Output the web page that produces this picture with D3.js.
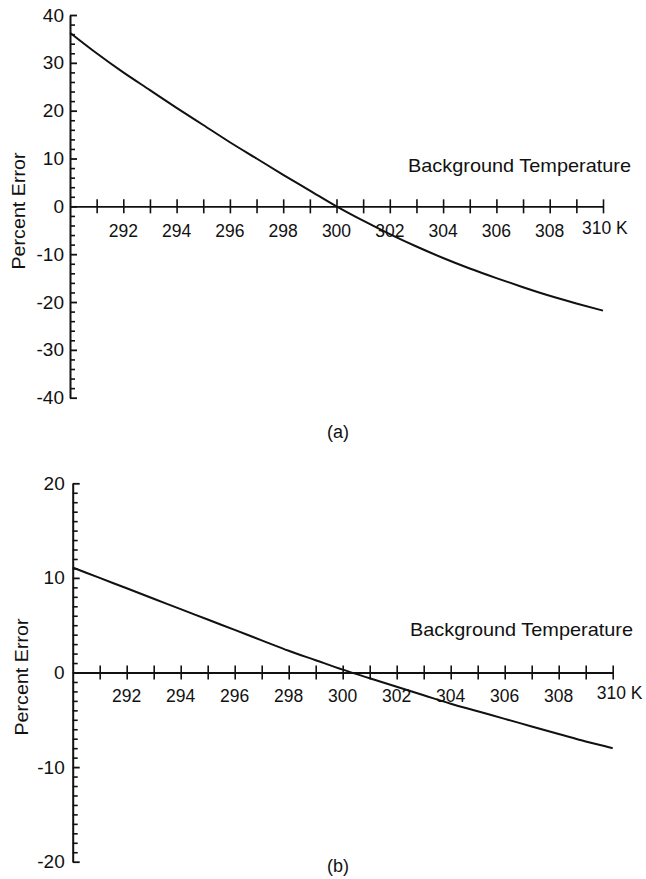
<!DOCTYPE html>
<html><head><meta charset="utf-8">
<script src="https://cdn.jsdelivr.net/npm/d3@7"></script>
<style>
body{margin:0;background:#fff}
text{font-family:"Liberation Sans",Arial,Helvetica,sans-serif;fill:#111}
</style>
</head><body>
<svg id="c" width="646" height="879"></svg>
<script>
// ---- data ----
const temperatures = [290,291,292,293,294,295,296,297,298,299,300,301,302,303,304,305,306,307,308,309,310];
const errorA = [36.3,32.0,28.0,24.3,20.6,17.0,13.4,10.0,6.6,3.3,0,-3.0,-5.8,-8.4,-10.8,-13.0,-15.0,-16.9,-18.7,-20.3,-21.8];
const errorB = [11.1,10.0,8.9,7.8,6.7,5.6,4.5,3.4,2.3,1.3,0.3,-0.6,-1.5,-2.4,-3.3,-4.1,-4.9,-5.7,-6.5,-7.3,-8.0];
const xTickValues = [291,292,293,294,295,296,297,298,299,300,301,302,303,304,305,306,307,308,309,310];
const xLabelValues = [292,294,296,298,300,302,304,306,308,310];
const yLabelsA = [40,30,20,10,0,-10,-20,-30,-40];
const yMinorA = [38,36,34,32,28,26,24,22,18,16,14,12,8,6,4,2,-2,-4,-6,-8,-12,-14,-16,-18,-22,-24,-26,-28,-32,-34,-36,-38];
const yLabelsB = [20,10,0,-10,-20];
const yMinorB = [19,18,17,16,15,14,13,12,11,9,8,7,6,5,4,3,2,1,-1,-2,-3,-4,-5,-6,-7,-8,-9,-11,-12,-13,-14,-15,-16,-17,-18,-19];
const xTitle = "Background Temperature";
const yTitle = "Percent Error";
const captions = ["(a)","(b)"];

const svg = d3.select("#c");
const FONT = '"Liberation Sans",Arial,sans-serif';

function panel(cfg){
  const g = svg.append("g");
  const x = d3.scaleLinear().domain([290,310]).range(cfg.xr);
  const y = d3.scaleLinear().domain(cfg.yd).range(cfg.yr);
  const y0 = y(0);

  // y axis minor ticks
  g.append("g").attr("transform",`translate(${cfg.xr[0]},0)`)
    .call(d3.axisLeft(y).tickValues(cfg.minor).tickSizeInner(-5).tickSizeOuter(0).tickFormat(""))
    .call(s=>s.select(".domain").remove())
    .call(s=>s.selectAll("line").attr("stroke","#111").attr("stroke-width",1.6));
  // y axis major ticks + labels
  g.append("g").attr("transform",`translate(${cfg.xr[0]},0)`)
    .call(d3.axisLeft(y).tickValues(cfg.major).tickSizeInner(-7).tickSizeOuter(0).tickPadding(cfg.ypad).tickFormat(d=>String(d)))
    .call(s=>s.select(".domain").attr("stroke","#111").attr("stroke-width",2))
    .call(s=>s.selectAll("line").attr("stroke","#111").attr("stroke-width",1.8))
    .call(s=>s.selectAll("text").attr("font-size",19).attr("fill","#111").style("font-family",FONT));

  // x axis (crossing ticks)
  const xa = g.append("g").attr("transform",`translate(0,${y0})`)
    .call(d3.axisBottom(x).tickValues(cfg.xt).tickSize(7).tickSizeOuter(0).tickFormat(""));
  xa.select(".domain").attr("stroke","#111").attr("stroke-width",1.8);
  xa.selectAll("line").attr("y1",-7).attr("stroke","#111").attr("stroke-width",1.6);

  // x labels
  g.append("g").selectAll("text").data(xLabelValues).join("text")
    .attr("x",d=>d===310 ? x(d)-cfg.kShift : x(d))
    .attr("y",d=>d===310 ? y0+cfg.lab-3 : y0+cfg.lab)
    .attr("text-anchor",d=>d===310?"start":"middle")
    .attr("font-size",17.5)
    .text(d=>d===310 ? "310 K" : d);

  // curve
  const line = d3.line().x((d,i)=>x(temperatures[i])).y(d=>y(d)).curve(d3.curveMonotoneX);
  g.append("path").datum(cfg.values).attr("d",line)
    .attr("fill","none").attr("stroke","#111").attr("stroke-width",2);

  // titles
  g.append("text").attr("x",cfg.xtPos[0]).attr("y",cfg.xtPos[1])
    .attr("font-size",19).attr("textLength",223).attr("lengthAdjust","spacingAndGlyphs").text(xTitle);
  g.append("text").attr("transform",`translate(${cfg.ytPos[0]},${cfg.ytPos[1]}) rotate(-90)`)
    .attr("text-anchor","middle").attr("font-size",19).attr("textLength",117).attr("lengthAdjust","spacingAndGlyphs").text(yTitle);
  g.append("text").attr("x",cfg.cap[0]).attr("y",cfg.cap[1]).attr("text-anchor","middle")
    .attr("font-size",18).text(cfg.caption);
}

panel({xr:[70,603], yd:[-40,40], yr:[397.7,15], major:yLabelsA, minor:yMinorA, ypad:6,
  xt:xTickValues, lab:31, kShift:21, values:errorA, xtPos:[408,172], ytPos:[25,211], cap:[338,438], caption:captions[0]});
panel({xr:[72.7,612.7], yd:[-20,20], yr:[861.7,483.3], major:yLabelsB, minor:yMinorB, ypad:8,
  xt:xTickValues, lab:29, kShift:16, values:errorB, xtPos:[410,636], ytPos:[28,677], cap:[338,872], caption:captions[1]});
</script>
</body></html>
